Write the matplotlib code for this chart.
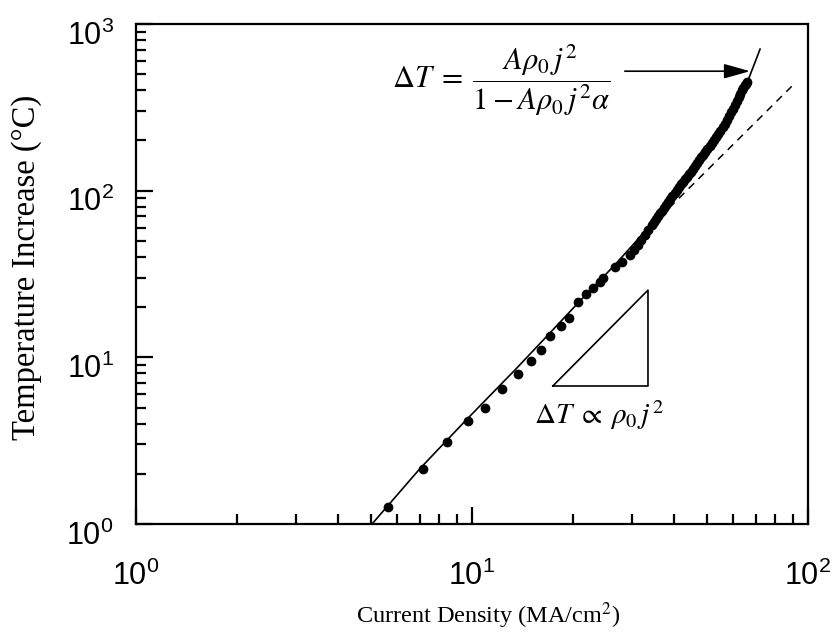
import math
import matplotlib
matplotlib.use("Agg")
import matplotlib.pyplot as plt
from matplotlib.ticker import LogLocator, FuncFormatter, NullFormatter
from matplotlib.transforms import ScaledTranslation

plt.rcParams['mathtext.fontset'] = 'custom'
plt.rcParams['mathtext.rm'] = 'Liberation Sans'
plt.rcParams['mathtext.it'] = 'Liberation Sans'

# ---- data ----
j_data = [5.62, 7.15, 8.43, 9.73, 10.9, 12.3, 13.7, 15.0, 16.0, 17.1, 18.4, 19.4,
          20.7, 21.8, 22.9, 24.0, 24.5, 26.7, 27.9, 29.5, 30.3, 31.2, 31.8, 32.7,
          33.4, 34.3, 34.8, 35.3, 35.8, 36.3, 36.8, 37.3, 37.8, 38.3, 38.9, 39.4,
          40.2, 40.7, 41.3, 41.9, 42.5, 43.0, 43.6, 44.2, 44.9, 45.5, 46.1, 46.7,
          47.4, 48.0, 48.7, 49.4, 50.1, 51.1, 51.8, 52.5, 53.2, 54.0, 54.7, 55.8,
          56.6, 57.4, 58.2, 59.0, 59.8, 60.6, 61.5, 62.3, 62.8, 63.6, 64.0, 64.9,
          65.4, 65.9]
T_data = [1.26, 2.14, 3.10, 4.15, 4.97, 6.45, 7.94, 9.5, 11.1, 13.4, 15.4, 17.2,
          21.5, 24.0, 26.1, 28.3, 29.9, 34.8, 37.3, 41.1, 44.0, 47.2, 50.6, 54.2,
          58.0, 62.2, 64.8, 67.5, 70.4, 73.4, 75.9, 78.6, 81.9, 85.4, 89.0, 92.8,
          96.7, 100.8, 105.1, 109.5, 113.4, 117.4, 121.5, 125.8, 130.2, 134.8, 140.5, 146.4,
          152.6, 159.1, 164.7, 170.4, 177.7, 185.2, 193.0, 201.2, 209.7, 218.6, 229.4, 240.7,
          252.7, 265.2, 280.3, 296.1, 310.8, 326.2, 344.7, 364.3, 382.4, 401.4, 415.5, 430.1,
          439.0, 448.2]

# fitted full model (solid) and low-current j^2 law (dashed)
fit_j = [5.04, 7.0, 9.6, 13.5, 17.0, 21.0, 26.5, 31.6, 40.7, 51.1, 60.6, 66.0, 72.0]
fit_T = [1.0, 2.15, 4.2, 8.5, 13.9, 21.9, 35.5, 52.7, 100.8, 185.0, 326.0, 448.0, 707.0]
sq_j = [31.6, 90.2]
sq_T = [52.7, 430.0]

# slope triangle
tri_j = [17.4, 33.4, 33.4, 17.4]
tri_T = [6.73, 6.73, 25.3, 6.73]

fig = plt.figure(figsize=(8.37, 6.43), dpi=100)
ax = fig.add_axes([136/837, 1-524/643, (808-136)/837, (524-24)/643])
ax.set_xscale('log')
ax.set_yscale('log')
ax.set_xlim(1, 100)
ax.set_ylim(1, 1000)

ax.plot(fit_j, fit_T, color='black', lw=1.2, zorder=2)
ax.plot(sq_j, sq_T, color='black', lw=1.1, ls=(0, (5, 4)), zorder=2)
ax.plot(j_data, T_data, 'o', color='black', ms=6.0, mec='black', zorder=3)
ax.plot(tri_j, tri_T, color='black', lw=1.2)

eq = r'$\Delta T \;=\; \dfrac{A\rho_0\, j^2}{1 - A\rho_0\, j^2\alpha}$'
ax.text(12.2, 461, eq, fontsize=22, ha='center', va='center', math_fontfamily='stix')
ax.annotate('', xy=(67.2, 521), xytext=(28.5, 521),
            arrowprops=dict(arrowstyle='-|>,head_length=1.6,head_width=0.45',
                            color='black', lw=1.2, shrinkA=0, shrinkB=0))
ax.text(23.9, 4.51, r'$\Delta T \;\propto\; \rho_0\, j^2$', fontsize=21, ha='center', va='center',
        math_fontfamily='stix')

for s in ax.spines.values():
    s.set_linewidth(1.6)

ax.xaxis.set_major_locator(LogLocator(base=10, numticks=10))
ax.yaxis.set_major_locator(LogLocator(base=10, numticks=10))
ax.xaxis.set_minor_locator(LogLocator(base=10, subs=range(2, 10), numticks=20))
ax.yaxis.set_minor_locator(LogLocator(base=10, subs=range(2, 10), numticks=20))
fmt = FuncFormatter(lambda v, p: r'$10^{%d}$' % round(math.log10(v)))
ax.xaxis.set_major_formatter(fmt)
ax.yaxis.set_major_formatter(fmt)
ax.xaxis.set_minor_formatter(NullFormatter())
ax.yaxis.set_minor_formatter(NullFormatter())
ax.tick_params(which='both', direction='in', top=False, right=False, width=1.6)
ax.tick_params(which='major', length=12, labelsize=22)
ax.tick_params(which='minor', length=7)
ax.tick_params(axis='x', which='major', pad=26)
ax.tick_params(axis='y', which='major', pad=16)

shift = ScaledTranslation(0, -8/100, fig.dpi_scale_trans)
for lab in ax.get_yticklabels():
    lab.set_transform(lab.get_transform() + shift)

ax.set_xlabel(r'Current Density (MA/cm$^2$)', fontsize=17.5, family='Liberation Serif',
              math_fontfamily='stix')
ax.xaxis.set_label_coords(0.524, -0.152)
ax.set_ylabel('Temperature Increase (°C)', fontsize=23.5, family='Liberation Serif')
ax.yaxis.set_label_coords(-0.14, 0.514)

fig.savefig('out.png', dpi=100)
